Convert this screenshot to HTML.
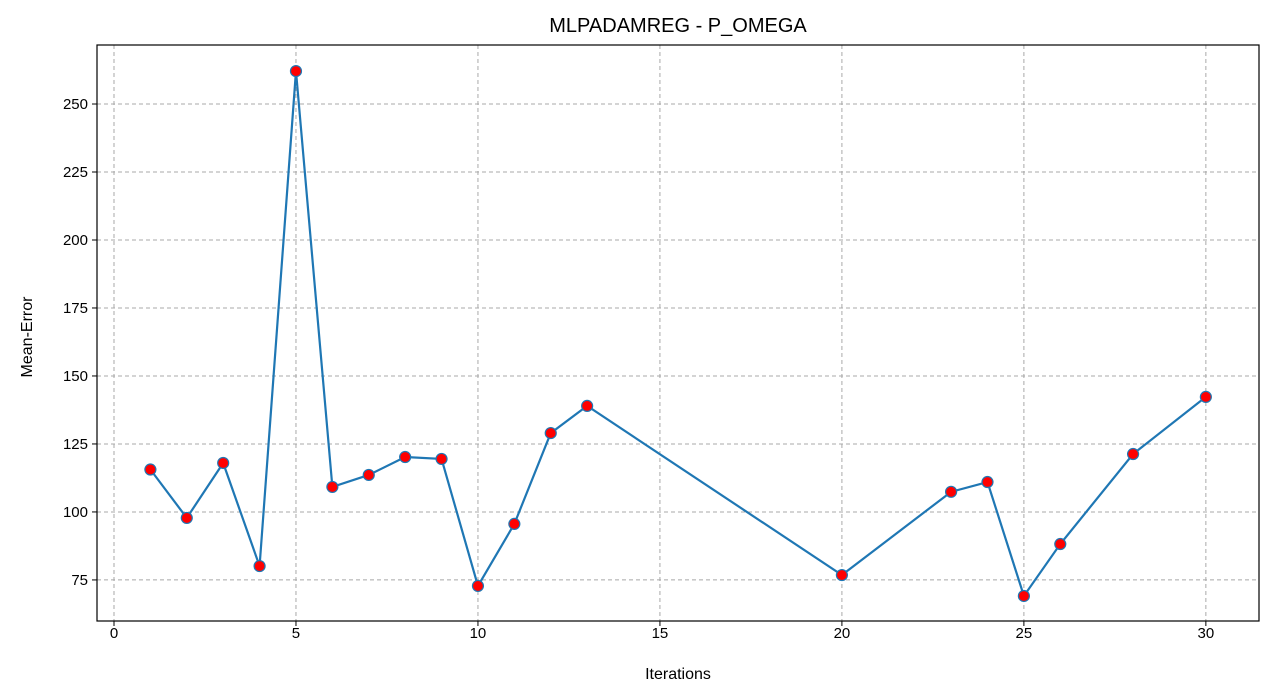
<!DOCTYPE html>
<html><head><meta charset="utf-8"><style>
html,body{margin:0;padding:0;background:#fff;}
svg{display:block;font-family:"Liberation Sans","DejaVu Sans",sans-serif;}
</style></head><body>
<svg id="chart" width="1275" height="700" viewBox="0 0 1275 700">
<rect width="1275" height="700" fill="#fff"/>
<g id="grid"></g>
<g id="ticks"></g>
<g id="series"></g>
<rect x="97" y="45" width="1162" height="576" fill="none" stroke="#000" stroke-width="1.2"/>
<text x="678" y="32" font-size="20" text-anchor="middle">MLPADAMREG - P_OMEGA</text>
<text x="678" y="679" font-size="16" text-anchor="middle">Iterations</text>
<text x="32" y="337" font-size="16" text-anchor="middle" transform="rotate(-90 32 337)">Mean-Error</text>
</svg>
<script>
const iterations=[1,2,3,4,5,6,7,8,9,10,11,12,13,20,23,24,25,26,28,30];
const meanErrors=[115.6,97.8,118,80.1,262.1,109.2,113.6,120.2,119.5,72.8,95.6,129,139,76.8,107.4,111,69.1,88.2,121.3,142.3];
const xTicks=[0,5,10,15,20,25,30];
const yTicks=[75,100,125,150,175,200,225,250];
const L=97,R=1259,T=45,B=621,xMin=-0.467,xMax=31.46,yMin=59.9,yMax=271.7;
const sx=v=>L+(v-xMin)/(xMax-xMin)*(R-L);
const sy=v=>B-(v-yMin)/(yMax-yMin)*(B-T);
const NS="http://www.w3.org/2000/svg";
function mk(tag,attrs,parent){const e=document.createElementNS(NS,tag);for(const k in attrs)e.setAttribute(k,attrs[k]);parent.appendChild(e);return e;}
const grid=document.getElementById('grid'),ticks=document.getElementById('ticks'),series=document.getElementById('series');
xTicks.forEach(t=>{
  const x=sx(t);
  const g=mk('line',{x1:x,x2:x,y1:T,y2:B,stroke:'#a8a8a8','stroke-dasharray':'4,3'},grid);
  
  
  mk('line',{x1:x,x2:x,y1:B,y2:B+5,stroke:'#000'},ticks);
  const tx=mk('text',{x:x,y:B+17,'font-size':15,'text-anchor':'middle'},ticks);
  tx.textContent=t;
  
  
});
yTicks.forEach(t=>{
  const y=sy(t);
  const g=mk('line',{x1:L,x2:R,y1:y,y2:y,stroke:'#a8a8a8','stroke-dasharray':'4,3'},grid);
  
  
  mk('line',{x1:L-5,x2:L,y1:y,y2:y,stroke:'#000'},ticks);
  const tx=mk('text',{x:L-9,y:y+5,'font-size':15,'text-anchor':'end'},ticks);
  tx.textContent=t;
  
  
});
const pts=iterations.map((v,i)=>sx(v)+','+sy(meanErrors[i])).join(' ');
const line=mk('polyline',{points:pts,fill:'none',stroke:'#1f77b4','stroke-width':2.2},series);


iterations.forEach((v,i)=>{
  const c=mk('circle',{cx:sx(v),cy:sy(meanErrors[i]),r:5.5,fill:'#ff0000',stroke:'#1f77b4','stroke-width':1.2},series);
  
  
});
</script>
</body></html>
